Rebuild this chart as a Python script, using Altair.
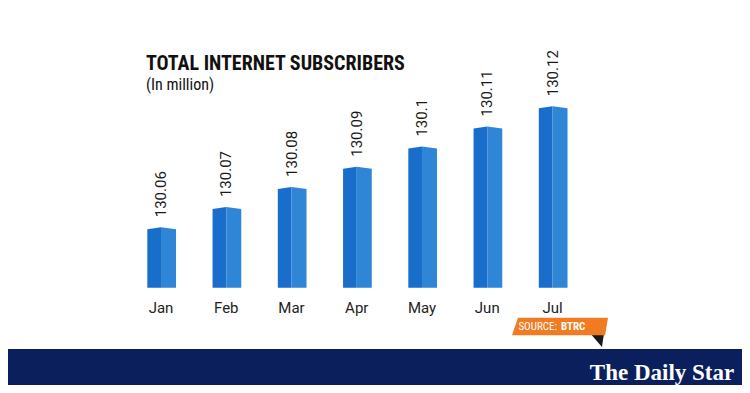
import altair as alt
import pandas as pd

# ---- data ----
months = ["Jan", "Feb", "Mar", "Apr", "May", "Jun", "Jul"]
subscribers = [130.06, 130.07, 130.08, 130.09, 130.10, 130.11, 130.12]
title_text = "TOTAL INTERNET SUBSCRIBERS"
subtitle_text = "(In million)"
source_label = "SOURCE:"
source_name = "BTRC"
brand = "The Daily Star"

# ---- derived tables ----
BASE = 130.031      # value where bars start (axis is not zero based)
ROOF = 0.001        # small ridge on top of each 3D bar
LEFT_W, RIGHT_W = 0.21, 0.23

bars = pd.DataFrame({"idx": range(len(months)), "month": months, "value": subscribers})

rows = []
for i, v in zip(bars["idx"], bars["value"]):
    rows += [
        {"key": f"{i}L", "face": "left", "x": i - LEFT_W, "y": v, "base": BASE},
        {"key": f"{i}L", "face": "left", "x": i, "y": v + ROOF, "base": BASE},
        {"key": f"{i}R", "face": "right", "x": i, "y": v + ROOF, "base": BASE},
        {"key": f"{i}R", "face": "right", "x": i + RIGHT_W, "y": v, "base": BASE},
    ]
faces = pd.DataFrame(rows)

W, H = 734, 377
xscale = alt.Scale(domain=[-2.345, 8.904], nice=False, zero=False)
yscale = alt.Scale(domain=[129.9828, 130.1697], nice=False, zero=False)
COND = "Roboto Condensed, Liberation Sans Narrow, Roboto"

one = pd.DataFrame({"k": [0]})

band = alt.Chart(one).mark_rect(color="#0b1f5c").encode(
    x=alt.value(0), x2=alt.value(W), y=alt.value(341), y2=alt.value(H)
)

bar_faces = alt.Chart(faces).mark_area(interpolate="linear").encode(
    x=alt.X("x:Q", scale=xscale, axis=None),
    y=alt.Y("y:Q", scale=yscale, axis=None),
    y2="base:Q",
    detail="key:N",
    color=alt.Color("face:N", scale=alt.Scale(domain=["left", "right"],
                                              range=["#1a6ecb", "#2f86d6"]), legend=None),
)

value_labels = alt.Chart(bars).mark_text(
    angle=270, align="left", baseline="middle", dx=12,
    font="Roboto", fontSize=15, color="#1a1a1a"
).encode(
    x=alt.X("idx:Q", scale=xscale, axis=None),
    y=alt.Y("value:Q", scale=yscale, axis=None),
    text=alt.Text("value:Q", format="~r"),
)

month_labels = alt.Chart(bars).mark_text(
    align="center", baseline="alphabetic", font="Roboto", fontSize=15, color="#222222"
).encode(
    x=alt.X("idx:Q", scale=xscale, axis=None),
    y=alt.value(305),
    text="month:N",
)

title = alt.Chart(one).mark_text(
    align="left", baseline="alphabetic", font=COND,
    fontSize=20, fontWeight="bold", color="#111111"
).encode(x=alt.value(138), y=alt.value(62), text=alt.value(title_text))

subtitle = alt.Chart(one).mark_text(
    align="left", baseline="alphabetic", font=COND,
    fontSize=16, color="#111111"
).encode(x=alt.value(138), y=alt.value(82), text=alt.value(subtitle_text))

badge = alt.Chart(one).mark_point(
    shape="M-0.875,-0.18 L1,-0.18 L0.94,0.18 L-1,0.18 Z",
    filled=True, opacity=1, color="#f07b22", size=9216, strokeWidth=0
).encode(x=alt.value(552), y=alt.value(318.5))

fold = alt.Chart(one).mark_point(
    shape="M-1,-1 L1,-1 L0.7,1 Z",
    filled=True, opacity=1, color="#1a1a1a", size=200, strokeWidth=0
).encode(x=alt.value(589), y=alt.value(332))

src1 = alt.Chart(one).mark_text(
    align="right", baseline="middle", font=COND,
    fontSize=11, color="#ffffff"
).encode(x=alt.value(549), y=alt.value(319), text=alt.value(source_label))

src2 = alt.Chart(one).mark_text(
    align="left", baseline="middle", font=COND,
    fontSize=11, fontWeight="bold", color="#ffffff"
).encode(x=alt.value(553), y=alt.value(319), text=alt.value(source_name))

logo = alt.Chart(one).mark_text(
    align="center", baseline="alphabetic", font="Liberation Serif",
    fontSize=23, fontWeight="bold", color="#ffffff"
).encode(x=alt.value(654), y=alt.value(372), text=alt.value(brand))

chart = alt.layer(
    band, bar_faces, value_labels, month_labels, title, subtitle,
    fold, badge, src1, src2, logo
).properties(
    width=W, height=H, autosize=alt.AutoSizeParams(type="none"), padding=0,
    background="#ffffff"
).configure_view(stroke=None)

chart.save("out.html", embed_options={"renderer": "svg", "actions": False})
